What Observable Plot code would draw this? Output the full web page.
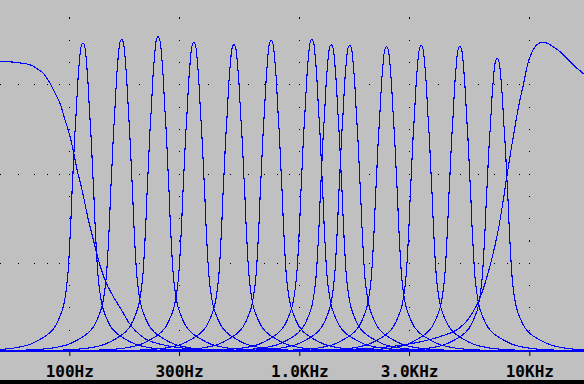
<!DOCTYPE html>
<html><head><meta charset="utf-8">
<script src="https://cdn.jsdelivr.net/npm/d3@7"></script>
<script src="https://cdn.jsdelivr.net/npm/@observablehq/plot@0.6"></script>
<style>
html,body{margin:0;padding:0;background:#000;width:584px;height:384px;overflow:hidden}
#chart svg{display:block}
</style></head><body><div id="chart"></div>
<script>
// x axis ticks
const tickValues = [100, 300, 1000, 3000, 10000];
const tickLabels = ["100Hz", "300Hz", "1.0KHz", "3.0KHz", "10KHz"];

// band-pass filters: centre frequency (Hz) and peak output (V)
const centerFreqs = [114, 168, 242, 346, 517, 751, 1128, 1370, 1648, 2382, 3371, 4963, 7213];
const peakVolts   = [3.47, 3.51, 3.54, 3.475, 3.45, 3.50, 3.51, 3.45, 3.445, 3.43, 3.44, 3.43, 3.296];

// shared resonance shape: offset from centre (decades) -> relative output
const profileDecades = [0, 0.009, 0.013, 0.017, 0.022, 0.026, 0.030, 0.035, 0.039, 0.043, 0.048, 0.052, 0.057, 0.061, 0.065, 0.072, 0.083, 0.098, 0.120, 0.141, 0.185, 0.228, 0.287, 0.357, 0.5, 1.0, 2.6];
const profileGain    = [1, 0.985, 0.96, 0.925, 0.875, 0.82, 0.765, 0.705, 0.645, 0.58, 0.505, 0.43, 0.355, 0.30, 0.255, 0.205, 0.155, 0.12, 0.085, 0.066, 0.043, 0.027, 0.016, 0.010, 0.006, 0.0025, 0];

// low-pass channel
const lowpassFreq  = [49, 50, 57.1, 62.1, 66.4, 69.8, 73.3, 77.1, 79.8, 82.4, 85.2, 88.1, 91.1, 94.2, 97.4, 100.7, 104.1, 107.7, 111.3, 114.4, 120.6, 124.6, 128.9, 133.3, 137.7, 142.5, 152.2, 168.3, 180, 192.4, 212.7, 243, 370, 1007, 3000, 18000];
const lowpassVolts = [3.262, 3.262, 3.255, 3.243, 3.229, 3.206, 3.169, 3.124, 3.068, 3.012, 2.937, 2.862, 2.78, 2.651, 2.534, 2.399, 2.231, 2.04, 1.895, 1.76, 1.48, 1.334, 1.181, 1.031, 0.919, 0.807, 0.658, 0.471, 0.34, 0.247, 0.154, 0.098, 0.035, 0.012, 0.004, 0];

// high-pass channel
const highpassFreq  = [45, 371, 1005, 1661, 2741, 3348, 4090, 4997, 5343, 5708, 6001, 6310, 6632, 6975, 7331, 7662, 7976, 8301, 8469, 8666, 8868, 9111, 9361, 9579, 9802, 10070, 10410, 10770, 11320, 11900, 12720, 13600, 14540, 15540, 16610, 17290, 18000];
const highpassVolts = [0, 0.005, 0.015, 0.035, 0.08, 0.12, 0.18, 0.284, 0.359, 0.471, 0.583, 0.732, 0.919, 1.143, 1.405, 1.704, 2.003, 2.284, 2.414, 2.564, 2.713, 2.862, 2.993, 3.124, 3.237, 3.33, 3.405, 3.453, 3.475, 3.468, 3.423, 3.367, 3.293, 3.217, 3.154, 3.117, 3.09];

// dotted grid
const minorFreqs  = [50, 60, 70, 80, 90, 100, 200, 300, 400, 500, 600, 700, 800, 900, 1000, 2000, 3000, 4000, 5000, 6000, 7000, 8000, 9000, 10000];
const gridVolts   = [1, 2, 3];
const columnVolts = [0.25, 0.5, 0.75, 1, 1.25, 1.5, 1.75, 2, 2.25, 2.5, 2.75, 3, 3.25, 3.5, 3.75];

// build tables
const bandRows = [];
centerFreqs.forEach((fc, i) => {
  for (let j = profileDecades.length - 1; j > 0; j--)
    bandRows.push({band: i, f: fc * Math.pow(10, -profileDecades[j]), v: peakVolts[i] * profileGain[j]});
  for (let j = 0; j < profileDecades.length; j++)
    bandRows.push({band: i, f: fc * Math.pow(10, profileDecades[j]), v: peakVolts[i] * profileGain[j]});
});
const lowRows = lowpassFreq.map((f, i) => ({f, v: lowpassVolts[i]}));
const highRows = highpassFreq.map((f, i) => ({f, v: highpassVolts[i]}));
const rowDots = gridVolts.flatMap(v => minorFreqs.map(f => ({f, v})));
const colDots = tickValues.flatMap(f => columnVolts.map(v => ({f, v})));

const blue = "#0000ff";
const chart = Plot.plot({
  width: 584, height: 380,
  marginLeft: 0, marginRight: 0, marginTop: 0, marginBottom: 28,
  style: {background: "#c0c0c0", overflow: "hidden"},
  x: {type: "log", domain: [49.97, 17290], label: null},
  y: {domain: [0, 352 / 89.2], axis: null},
  marks: [
    Plot.dot(rowDots, {x: "f", y: "v", symbol: "square", r: 0.565, fill: "#000", stroke: null, shapeRendering: "crispEdges"}),
    Plot.dot(colDots, {x: "f", y: "v", symbol: "square", r: 0.565, fill: "#000", stroke: null, shapeRendering: "crispEdges"}),
    Plot.line(bandRows, {x: "f", y: "v", z: "band", stroke: blue, strokeWidth: 1.1, curve: "monotone-x", clip: true, shapeRendering: "crispEdges"}),
    Plot.line(lowRows, {x: "f", y: "v", stroke: blue, strokeWidth: 1.1, curve: "monotone-x", clip: true, shapeRendering: "crispEdges"}),
    Plot.line(highRows, {x: "f", y: "v", stroke: blue, strokeWidth: 1.1, curve: "monotone-x", clip: true, shapeRendering: "crispEdges"}),
    Plot.axisX({
      ticks: tickValues,
      tickFormat: d => tickLabels[tickValues.indexOf(d)],
      tickSize: 4, tickPadding: 9.6,
      fontFamily: "DejaVu Sans Mono", fontSize: 16, fontWeight: "bold",
      stroke: "#000", fill: "#000", label: null
    })
  ]
});
document.getElementById("chart").appendChild(chart);
</script></body></html>
